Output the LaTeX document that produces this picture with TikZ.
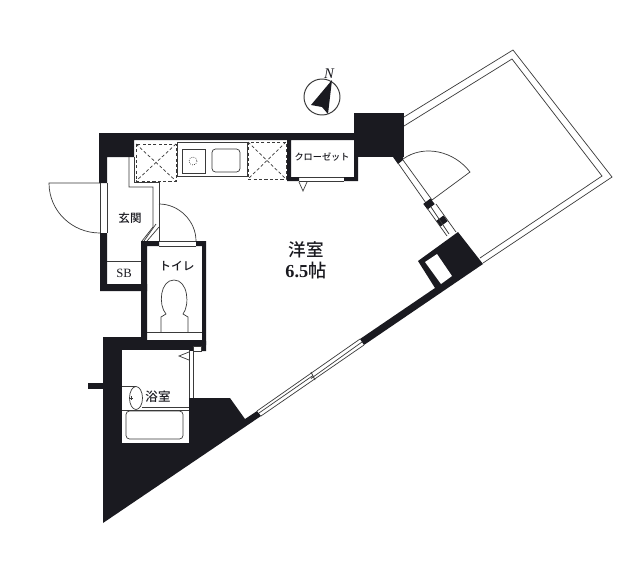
\documentclass[tikz,border=0pt]{standalone}
\usepackage{fontspec}
\setmainfont{Liberation Serif}
\newfontfamily\cjk[UprightFont=* Medium]{Noto Sans CJK JP}
\definecolor{wallink}{HTML}{1A1A20}
\definecolor{lineink}{HTML}{3A3A3A}
\tikzset{
  wall/.style={fill=wallink,draw=none},
  room/.style={fill=white,draw=none},
  thinline/.style={draw=lineink,line width=0.5pt},
  dashline/.style={draw=lineink,line width=0.5pt,dash pattern=on 2.2pt off 1.6pt},
  jamb/.style={fill=wallink,inner sep=0pt,minimum width=5pt,minimum height=6.4pt},
  label/.style={inner sep=0pt,text=wallink}
}
\begin{document}
\begin{tikzpicture}[x=0.025cm,y=-0.025cm]
  \useasboundingbox (0,0) rectangle (640,567);
  \fill[white] (0,0) rectangle (640,567);
  % north mark
  \draw[thinline,line width=0.7pt] (322,97) circle [radius=18];
  \fill[wall] (332,80)--(311,105)--(322,107)--(328,114)--cycle;
  \node[label,font=\itshape\fontsize{10.5}{12}\selectfont] (north) at (329,74) {N};
  % balcony
  \draw[thinline] (404,117)--(513,50)--(612,177)--(483,263);
  \draw[thinline] (404,126)--(512,59)--(602,176)--(480,258);
  % top wall and closet
  \fill[wall] (99,133)--(358,133)--(358,181)--(344,181)--(344,177)--(354,177)--(354,140)--(291,140)--(291,177)--(299,177)--(299,181)--(287,181)--(287,140)--(134,140)--(134,157)--(107,157)--(107,183)--(99,183)--cycle;
  \fill[wall] (354,113) rectangle (404,157);
  \fill[wall] (393,157)--(403,157)--(403,160)--(398,164)--cycle;
  \draw[thinline] (299,177)--(344,177) (299,181)--(344,181);
  \draw[thinline] (299,182)--(303,191)--(307,182);
  % entrance
  \fill[wall] (100,233)--(107,233)--(107,284)--(147,284)--(147,291)--(100,291)--cycle;
  \draw[thinline] (100,183)--(100,233) (107,183)--(107,233);
  \draw[thinline] (100,183)--(49,183) .. controls (49,211) and (72,233) .. (100,233);
  \draw[thinline] (107,261)--(142,261);
  % hall partition
  \draw[thinline] (129,157)--(129,187)--(153,187)--(153,227)--(142,241);
  \draw[thinline] (134,157)--(134,182)--(159,182)--(159,241);
  \draw[thinline] (159,227)--(147,241) (156,224)--(144,241);
  % toilet
  \fill[wall] (141,241)--(159,241)--(159,246)--(147,246)--(147,340)--(202,340)--(202,246)--(196,246)--(196,241)--(206,241)--(206,345)--(141,345)--cycle;
  \draw[thinline] (159,241)--(196,241) (159,246)--(196,246);
  \draw[thinline] (159,204) .. controls (179,204) and (196,221) .. (196,241);
  \draw[thinline] (147,332)--(202,332);
  \draw[thinline] (161,332)--(161,317)--(166,314) .. controls (158,305) and (160,280) .. (174,280) .. controls (188,280) and (190,305) .. (183,314)--(188,317)--(188,332);
  % bath block
  \fill[wall] (103,337)--(141,337)--(141,341)--(206,341)--(206,351)--(193,351)--(193,398)--(230,398)--(245,419)--(257,411)--(261,416)--(103,523)--cycle;
  \fill[wall] (88,383) rectangle (103,389);
  \fill[room] (122,350) rectangle (189,443);
  \fill[room] (189,351) rectangle (193,398);
  \draw[thinline] (189,350)--(189,398) (193,351)--(193,398);
  \draw[thinline,fill=white] (193,346) rectangle (201,351);
  \draw[thinline] (189,352)--(179,356)--(189,360);
  % basin
  \draw[thinline] (122,386)--(136,386) (122,410)--(189,410) (142,407)--(189,407);
  \draw[thinline] (136,398) ellipse [x radius=6.5,y radius=11.5];
  \draw[thinline] (129,398)--(133,398) (131,396)--(131,400);
  \draw[thinline,rounded corners=2.5pt] (126,411) rectangle (183,439);
  % kitchen
  \draw[dashline] (136,144) rectangle (176,181);
  \draw[dashline] (136,144)--(176,181) (176,144)--(136,181);
  \draw[dashline] (248,142) rectangle (286,179);
  \draw[dashline] (248,142)--(286,179) (286,142)--(248,179);
  \draw[thinline] (177,142) rectangle (247,176);
  \draw[thinline] (182,149) rectangle (205,173);
  \draw[thinline,densely dotted] (193,161) circle [radius=4];
  \draw[thinline,rounded corners=2.5pt] (212,149) rectangle (240,172);
  % balcony door
  \draw[thinline] (398,163)--(426,203) (403,160)--(432,200);
  \node[jamb,rotate=-53] (jambupper) at (429,204) {};
  \node[jamb,rotate=-53] (jamblower) at (442,221) {};
  \draw[thinline] (431,207)--(449,234) (427,208)--(447,236) (436,204)--(456,232);
  \draw[thinline] (432,200)--(470,172) .. controls (454,151) and (424,144) .. (403,159);
  % pipe space and window wall
  \fill[wall] (418,261)--(458,232)--(483,264)--(364,345)--(360,339)--(435,288)--cycle;
  \fill[room] (425,262)--(437,254)--(452,276)--(441,284)--cycle;
  \draw[thinline] (257,411)--(360,339) (261,416)--(364,345) (259,413)--(313,375.5) (311,378.5)--(362,342);
  \draw[thinline] (311,372)--(315,380);
  % labels
  \node[label,font=\cjk\fontsize{12.5}{14}\selectfont] (western) at (306,250) {洋室};
  \node[label,font=\bfseries\fontsize{13}{14}\selectfont] (size) at (306,271) {6.5{\cjk\mdseries 帖}};
  \node[label,font=\cjk\fontsize{8.2}{10}\selectfont] (entry) at (130,218) {玄関};
  \node[label,font=\fontsize{9}{10}\selectfont] (sb) at (124,273) {SB};
  \node[label,font=\cjk\fontsize{8.3}{10}\selectfont] (toilet) at (177,266) {トイレ};
  \node[label,font=\cjk\fontsize{8.9}{10}\selectfont] (bath) at (158,397) {浴室};
  \node[label,font=\cjk\fontsize{6.5}{8}\selectfont] (closet) at (322,157) {クローゼット};
\end{tikzpicture}
\end{document}
